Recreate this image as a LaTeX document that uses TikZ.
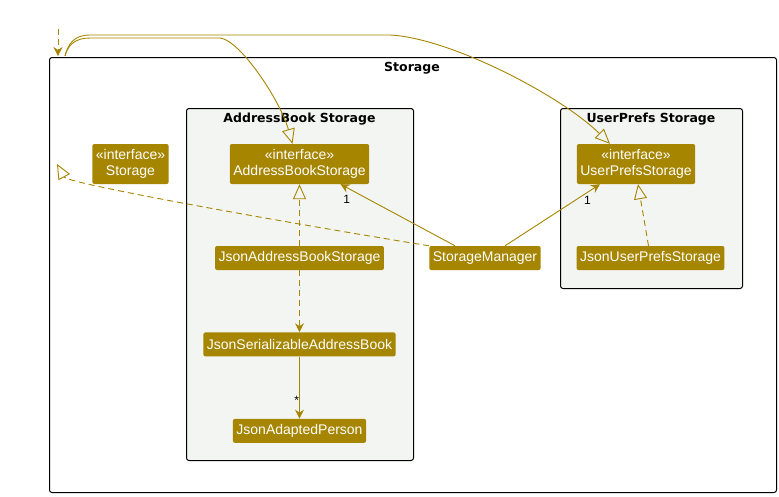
\documentclass[tikz,border=0pt]{standalone}
\usepackage{fontspec}
\setmainfont{Liberation Sans}
\newfontfamily\titlefont{DejaVu Sans}
\usepackage{tikz}
\usetikzlibrary{positioning,arrows.meta}

\definecolor{umlgold}{HTML}{A68500}
\definecolor{pkggray}{HTML}{F3F5F3}

\tikzset{
  cls/.style={fill=umlgold, text=white, rounded corners=2pt,
    font=\fontsize{14}{16}\selectfont, inner xsep=3.5pt, inner ysep=0pt,
    minimum height=24pt},
  iface/.style={cls, align=center, minimum height=40pt},
  pkg/.style={draw=black, fill=pkggray, line width=1pt, rounded corners=2.5pt,
    anchor=north west, inner sep=0pt},
  pkgtitle/.style={font=\titlefont\bfseries\fontsize{12.5}{14}\selectfont},
  link/.style={draw=umlgold, line width=0.9pt},
  dep/.style={link, dash pattern=on 6pt off 4pt,
    -{Stealth[length=9pt,width=9pt,inset=3pt]}},
  assoc/.style={link, -{Stealth[length=9pt,width=9pt,inset=3pt]}},
  realize/.style={link, dash pattern=on 6pt off 4pt,
    -{Triangle[open,length=15pt,width=13pt]}},
  extend/.style={link, -{Triangle[open,length=15pt,width=13pt]}},
  mult/.style={font=\fontsize{12}{14}\selectfont, text=black, inner sep=1pt}
}

\begin{document}
\begin{tikzpicture}[x=1pt,y=-1pt]
  \useasboundingbox (0,0) rectangle (779,496);

  % packages
  \node[pkg, fill=white, minimum width=727pt, minimum height=435pt] (StorFrame) at (49,57) {};
  \node[pkgtitle] (StorTitle) at (412,68) {Storage};
  \node[pkg, minimum width=227pt, minimum height=352pt] (AbPkg) at (186,108) {};
  \node[pkgtitle] (AbTitle) at (299.5,119) {AddressBook Storage};
  \node[pkg, minimum width=182pt, minimum height=180pt] (UpPkg) at (560,108) {};
  \node[pkgtitle] (UpTitle) at (651,119) {UserPrefs Storage};

  % classes
  \node[iface] (Stor) at (130.5,164) {«interface»\\Storage};
  \node[iface] (ABS)  at (299.5,164) {«interface»\\AddressBookStorage};
  \node[iface] (UPS)  at (636,164)   {«interface»\\UserPrefsStorage};
  \node[cls]   (JABS) at (299.5,258) {JsonAddressBookStorage};
  \node[cls]   (SM)   at (485,258)   {StorageManager};
  \node[cls]   (JUPS) at (650.5,258) {JsonUserPrefsStorage};
  \node[cls]   (JSAB) [below=62pt of JABS] {JsonSerializableAddressBook};
  \node[cls]   (JAP)  [below=62pt of JSAB] {JsonAdaptedPerson};

  \coordinate (DepFrom) at (58,29);
  \coordinate (DepTo)   at (58,56);
  \coordinate (GenFrom) at (65,56);
  \coordinate (ImplTip) at (57,164);

  \draw[dep] (DepFrom) -- (DepTo);
  \draw[extend] (GenFrom) .. controls (68,45) and (75,38) .. (90,38) -- (220,38)
    .. controls (240,40) and (280,100) .. ([xshift=-7pt]ABS.north);
  \draw[extend] (GenFrom) .. controls (68,44) and (74,35) .. (90,35) -- (390,35)
    .. controls (450,38) and (560,95) .. ([xshift=-26pt]UPS.north);
  \draw[realize] (SM.north west) .. controls (300,225) and (68,184) .. (ImplTip);

  \path
    ([xshift=-30pt]SM.north) edge[assoc] node[mult, pos=0.92, below=5pt, xshift=-3pt]{1} ([xshift=41pt]ABS.south)
    ([xshift=20pt]SM.north)  edge[assoc] node[mult, pos=0.9, below=4pt, xshift=-3pt]{1} ([xshift=-36pt]UPS.south)
    ([xshift=-2pt]JUPS.north) edge[realize] ([xshift=2pt]UPS.south)
    (JABS.north) edge[realize] (ABS.south)
    (JABS.south) edge[dep]     (JSAB.north)
    (JSAB.south) edge[assoc]   node[mult, pos=0.7, left=-1pt]{*} (JAP.north);
\end{tikzpicture}
\end{document}
